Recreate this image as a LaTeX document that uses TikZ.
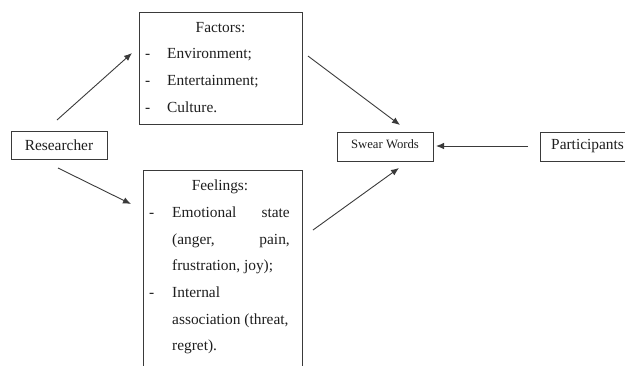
\documentclass[tikz,border=0pt]{standalone}
\usepackage{fontspec}
\setmainfont{Liberation Serif}
\usetikzlibrary{arrows.meta}
\definecolor{ink}{HTML}{1E1E1E}
\definecolor{edge}{HTML}{3A3A3A}
\tikzset{
  box/.style={draw=edge, line width=0.9pt, inner sep=0pt, anchor=north west},
  txt/.style={text=ink, inner sep=0pt, font=\fontsize{15.4}{18}\selectfont},
  small/.style={text=ink, inner sep=0pt, font=\fontsize{12.7}{15}\selectfont},
  conn/.style={draw=edge, line width=0.9pt, -{Latex[length=8pt,width=6.5pt]}}
}
\begin{document}
\begin{tikzpicture}[x=1pt,y=-1pt]
\useasboundingbox (0,0) rectangle (625,365);
\clip (0,0) rectangle (625,365);
% boxes
\node[box, minimum width=163pt, minimum height=112pt] (factors) at (139,12) {};
\node[box, minimum width=96pt, minimum height=28pt] (researcher) at (11,131) {};
\node[box, minimum width=159pt, minimum height=202pt] (feelings) at (143,170) {};
\node[box, minimum width=96pt, minimum height=29pt] (swear) at (337,132) {};
\node[box, minimum width=100pt, minimum height=29pt] (participants) at (540,132) {};
% texts
\node[txt, anchor=base] (rt) at (59,150) {Researcher};
\node[small, anchor=base] (st) at (385,148.3) {Swear Words};
\node[txt, anchor=base west] (pt) at (551,149.5) {Participants};
% factors
\node[txt, anchor=base] (f0) at (220.5,32) {Factors:};
\node[txt, anchor=base west] (fd1) at (145,58.5) {-};
\node[txt, anchor=base west] (f1) at (167,58.5) {Environment;};
\node[txt, anchor=base west] (fd2) at (145,85) {-};
\node[txt, anchor=base west] (f2) at (167,85) {Entertainment;};
\node[txt, anchor=base west] (fd3) at (145,112) {-};
\node[txt, anchor=base west] (f3) at (167,112) {Culture.};
% feelings
\node[txt, anchor=base] (g0) at (220,190.7) {Feelings:};
\node[txt, anchor=base west] (gd1) at (149,217.3) {-};
\node[txt, anchor=base west] (g1a) at (172,217.3) {Emotional};
\node[txt, anchor=base east] (g1b) at (290,217.3) {state};
\node[txt, anchor=base west] (g2a) at (172,244) {(anger,};
\node[txt, anchor=base east] (g2b) at (290,244) {pain,};
\node[txt, anchor=base west] (g3) at (172,270.7) {frustration, joy);};
\node[txt, anchor=base west] (gd2) at (149,297.3) {-};
\node[txt, anchor=base west] (g4) at (172,297.3) {Internal};
\node[txt, anchor=base west] (g5) at (172,324) {association (threat,};
\node[txt, anchor=base west] (g6) at (172,350.7) {regret).};
% connector ends
\coordinate (a1s) at (57,120);
\coordinate (a1e) at (132,53);
\coordinate (a2s) at (58,168);
\coordinate (a2e) at (131,204);
\coordinate (a3s) at (308,56);
\coordinate (a3e) at (400,125);
\coordinate (a4s) at (313,230);
\coordinate (a4e) at (399,168);
\coordinate (a5s) at (528,146);
\coordinate (a5e) at (436,146);
\draw[conn] (a1s) -- (a1e);
\draw[conn] (a2s) -- (a2e);
\draw[conn] (a3s) -- (a3e);
\draw[conn] (a4s) -- (a4e);
\draw[conn] (a5s) -- (a5e);
\end{tikzpicture}
\end{document}
